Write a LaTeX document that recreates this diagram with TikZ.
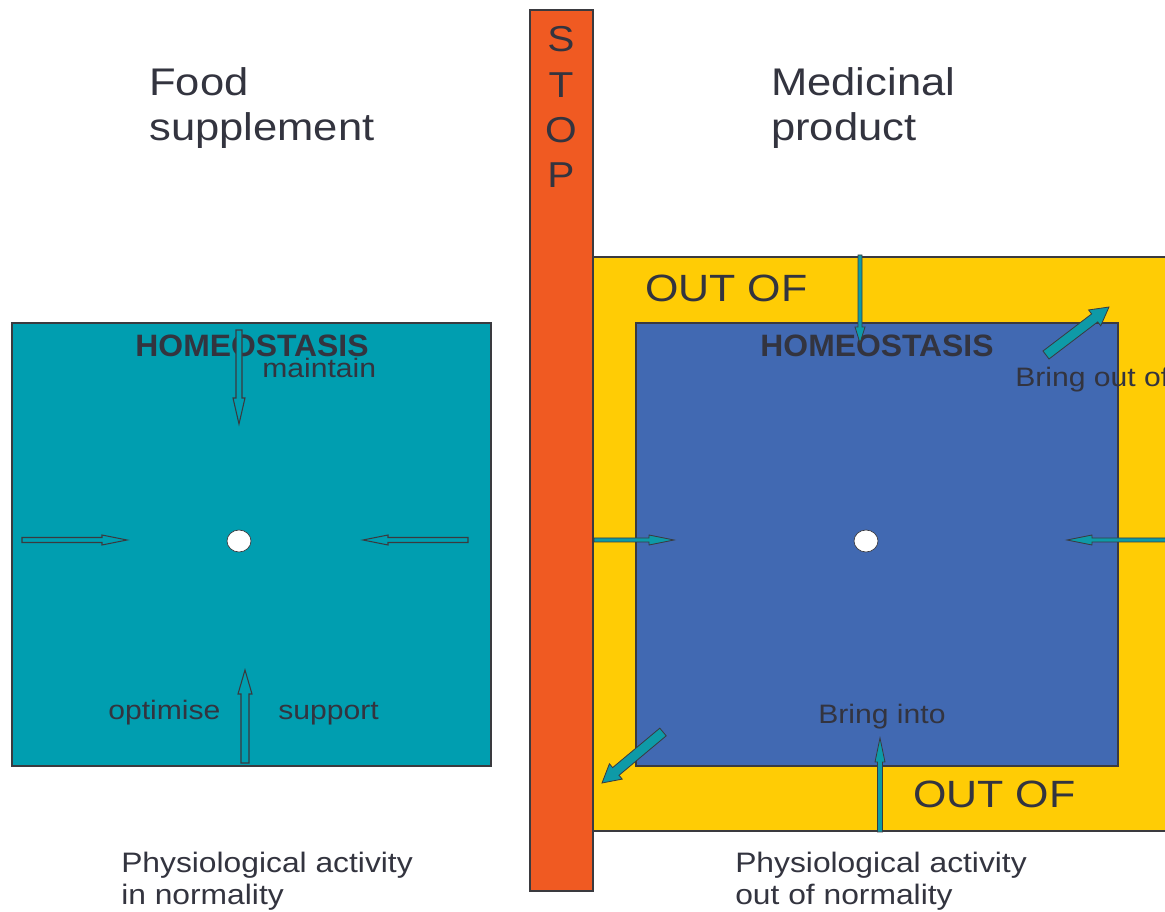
\documentclass[tikz,border=0pt]{standalone}
\usepackage{fontspec}
\setmainfont{Liberation Sans}
\newfontfamily\wide[FakeStretch=1.13]{Liberation Sans}
\newfontfamily\hbold[FakeStretch=1.03]{Liberation Sans}
\definecolor{tealbox}{HTML}{009EB0}
\definecolor{bluebox}{HTML}{4169B2}
\definecolor{yelbox}{HTML}{FFCC05}
\definecolor{orgbar}{HTML}{F05A22}
\definecolor{txt}{HTML}{33343F}
\definecolor{edge}{HTML}{3A3A3F}
\definecolor{arrteal}{HTML}{0E9AA7}
\newcommand{\blkarrow}[8][]{%
  \pgfmathsetmacro\baang{atan2(-((#5)-(#3)),(#4)-(#2))}%
  \pgfmathsetmacro\balen{veclen((#4)-(#2),(#5)-(#3))}%
  \begin{scope}[shift={(#2,#3)},rotate=\baang]
    \draw[#1] (0,-#6) -- ({\balen-#8},-#6) -- ({\balen-#8},-#7) -- (\balen,0)
      -- ({\balen-#8},#7) -- ({\balen-#8},#6) -- (0,#6) -- cycle;
  \end{scope}}
\tikzset{
  box/.style={draw=edge, line width=0.9pt, inner sep=0pt, outer sep=0pt},
  lbl/.style={inner sep=0pt, anchor=base west, text=txt},
  title/.style={lbl, font=\wide\fontsize{28.9}{34}\selectfont},
  phys/.style={lbl, font=\wide\fontsize{21.1}{25}\selectfont},
  small/.style={lbl, font=\wide\fontsize{20}{24}\selectfont},
  outof/.style={lbl, font=\wide\fontsize{28.5}{34}\selectfont},
  homeo/.style={inner sep=0pt, anchor=base, text=txt, font=\hbold\bfseries\fontsize{23.2}{27}\selectfont},
  stopl/.style={inner sep=0pt, anchor=base, text=txt, font=\wide\fontsize{27}{32}\selectfont},
  dot/.style={ellipse, draw=edge, fill=white, line width=0.5pt, minimum width=18pt, minimum height=16.5pt, inner sep=0pt},
  hollow/.style={draw=edge, fill=tealbox, line width=0.8pt, line join=miter},
  solid/.style={draw=edge, fill=arrteal, line width=0.6pt, line join=miter}
}
\usetikzlibrary{shapes.geometric}
\begin{document}
\begin{tikzpicture}[x=0.75pt,y=-0.75pt]
\useasboundingbox (0,0) rectangle (1165,912);
\clip (0,0) rectangle (1165,912);
\fill[white] (0,0) rectangle (1165,912);

% regions
\node[box, fill=tealbox, minimum width=359.25pt, minimum height=332.25pt] (fs) at (251.5,544.5) {};
\node[box, fill=yelbox, minimum width=444pt, minimum height=430.5pt] (oo) at (889,544) {};
\node[box, fill=bluebox, minimum width=361.5pt, minimum height=332.25pt] (mp) at (877,544.5) {};
\node[box, fill=orgbar, minimum width=47.25pt, minimum height=660.75pt] (stop) at (561.5,450.5) {};

% STOP letters
\node[stopl] (s1) at (561,52) {S};
\node[stopl] (s2) at (561,98) {T};
\node[stopl] (s3) at (561,143) {O};
\node[stopl] (s4) at (561,188) {P};

% titles
\node[title] (t1a) at (149,96) {Food};
\node[title] (t1b) at (149,141) {supplement};
\node[title] (t2a) at (771,96) {Medicinal};
\node[title] (t2b) at (771,141) {product};

% bottom captions
\node[phys] (p1a) at (121,873) {Physiological activity};
\node[phys] (p1b) at (121,904) {in normality};
\node[phys] (p2a) at (735,873) {Physiological activity};
\node[phys] (p2b) at (735,904) {out of normality};

% left box labels
\node[homeo] (h1) at (252,357) {HOMEOSTASIS};
\node[small] (mt) at (262,378) {maintain};
\node[small] (op) at (108,720) {optimise};
\node[small] (sp) at (278,720) {support};

% right box labels
\node[outof] (o1) at (645,302) {OUT OF};
\node[outof] (o2) at (913,807) {OUT OF};
\node[homeo] (h2) at (877,357) {HOMEOSTASIS};
\node[small] (bo) at (1015,387) {Bring out of};
\node[small] (bi) at (818,724) {Bring into};

% centre points
\node[dot] (c1) at (239,541) {};
\node[dot] (c2) at (866,541) {};

% left box arrows (hollow)
\blkarrow[hollow]{239}{330}{239}{424}{3}{6}{26}
\blkarrow[hollow]{22}{540}{127}{540}{2.5}{5}{25}
\blkarrow[hollow]{468}{540}{363}{540}{2.5}{5}{25}
\blkarrow[hollow]{245}{763}{245}{670}{4}{7}{24}

% right box arrows (solid teal)
\blkarrow[solid]{860}{255}{860}{343}{2}{5}{16}
\blkarrow[solid]{1046}{355}{1109}{307}{5}{10}{18}
\blkarrow[solid]{594}{540}{674}{540}{2}{5}{25}
\blkarrow[solid]{1170}{540}{1067}{540}{2}{5}{25}
\blkarrow[solid]{880}{832}{880}{738}{2.5}{5}{24}
\blkarrow[solid]{663}{732}{602}{783}{5}{10}{18}
\end{tikzpicture}
\end{document}
